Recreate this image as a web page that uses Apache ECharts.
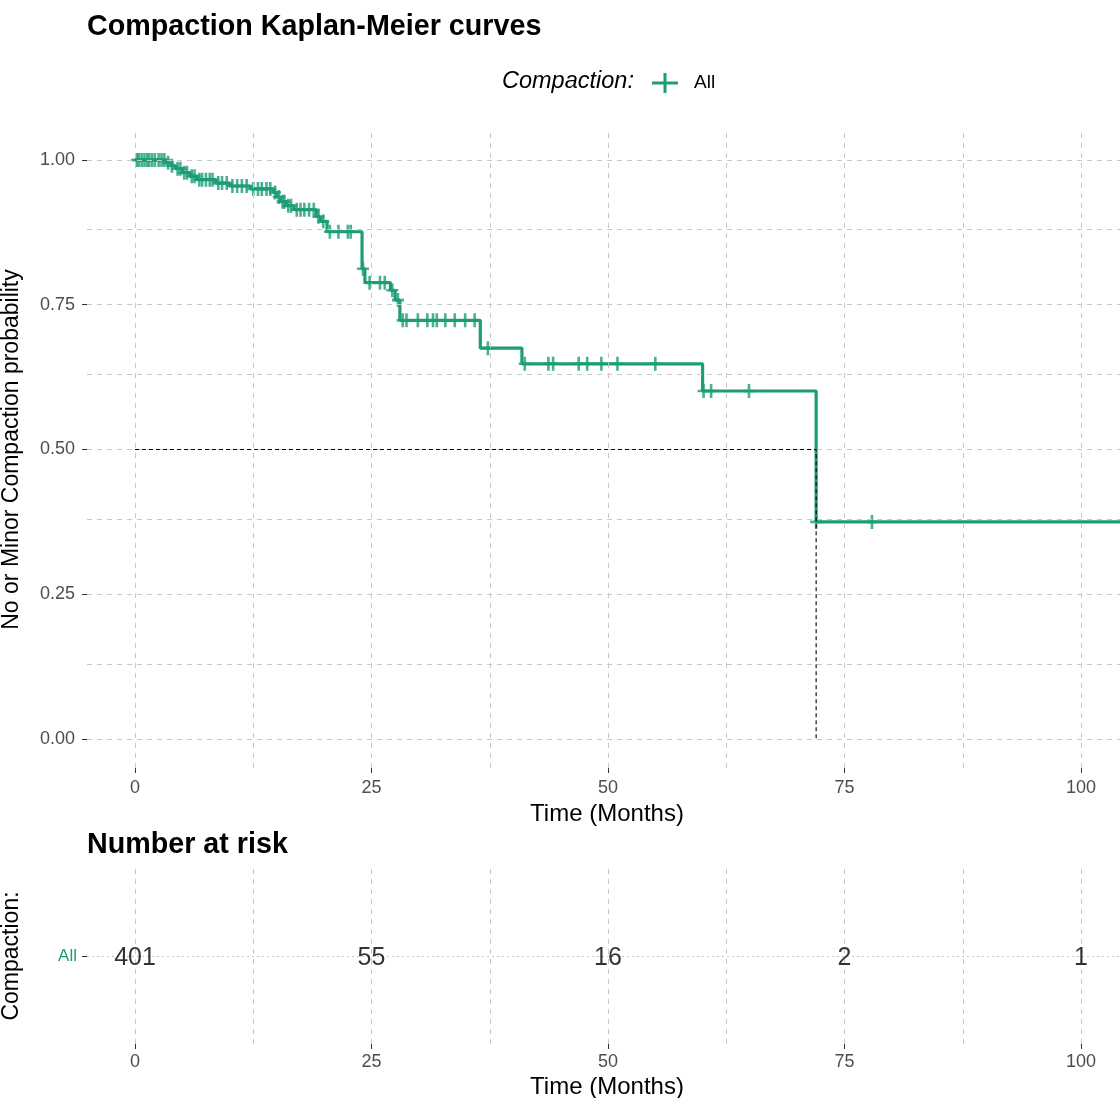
<!DOCTYPE html>
<html><head><meta charset="utf-8">
<script src="https://cdn.jsdelivr.net/npm/echarts@6/dist/echarts.min.js"></script>
<style>html,body{margin:0;padding:0;background:#fff;overflow:hidden}#c{width:1120px;height:1098px}</style>
</head><body><div id="c"></div>
<script>
// ---- data ----
const stepTimes = [0,3.3,3.8,4.3,5.0,5.8,6.5,8.5,10.0,12.2,14.6,15.0,15.4,16.0,16.8,19.2,19.6,20.3,24.0,24.3,27.0,27.5,28.0,36.5,40.9,60.0,72.0,110];
const stepSurv  = [1,0.995,0.990,0.985,0.978,0.972,0.966,0.960,0.955,0.950,0.944,0.936,0.928,0.921,0.914,0.902,0.894,0.876,0.812,0.788,0.775,0.758,0.723,0.675,0.648,0.601,0.375,0.375];
const censorTimes = [0.2,0.4,0.7,1.0,1.3,1.5,1.8,2.1,2.5,2.8,3.1,3.5,3.9,4.5,4.8,5.2,5.5,6.0,6.3,6.8,7.1,7.5,7.9,8.2,8.8,9.2,9.7,10.3,10.8,11.3,11.8,12.5,13.0,13.4,13.9,14.3,14.8,15.2,15.6,15.8,16.2,16.5,17.1,17.5,17.9,18.4,18.9,19.4,19.9,20.6,21.5,22.5,22.8,24.1,24.8,25.9,26.4,27.2,27.8,28.3,28.7,29.9,30.9,31.5,31.9,32.8,33.8,34.9,35.9,37.3,41.2,43.7,44.2,46.9,47.8,49.3,51.0,55.0,60.1,60.9,64.9,72.0,77.9];
const medianTime = 72.0;
const medianSurv = 0.5;
const xMajor = [0,25,50,75,100];
const xMinor = [12.5,37.5,62.5,87.5];
const yMajor = [0,0.25,0.5,0.75,1];
const yMinor = [0.125,0.375,0.625,0.875];
const riskTimes = [0,25,50,75,100];
const riskCounts = [401,55,16,2,1];
const groupName = 'All';

// ---- helpers ----
function survAt(t){ let s=stepSurv[0]; for(let i=0;i<stepTimes.length;i++){ if(stepTimes[i]<=t) s=stepSurv[i]; } return s; }
const FONT = "'Liberation Sans', Arial, sans-serif";
const GREEN = '#1B9E77';
const GRID = '#C8C8C8';
const X_MIN = -5.074, X_MAX = 104.86;
const plus = 'path://M-1.3,-7H1.3V7H-1.3Z M-6,-1.3H6V1.3H-6Z';
const legendPlus = 'path://M0,8.5H26V11.5H0Z M11.5,0H14.5V20H11.5Z';

const gridLineStyle = {color: GRID, type: [5,5], width: 1};
function vLines(arr){ return arr.map(v=>({xAxis:v})); }
function hLines(arr){ return arr.map(v=>({yAxis:v})); }

const chart = echarts.init(document.getElementById('c'), null, {renderer:'canvas'});
const option = {
  animation:false,
  textStyle:{fontFamily:FONT},
  title:[
    {text:'Compaction Kaplan-Meier curves', left:87, top:13, padding:0,
     textStyle:{fontFamily:FONT, fontSize:28.7, fontWeight:'bold', color:'#000'}},
    {text:'Number at risk', left:87, top:831, padding:0,
     textStyle:{fontFamily:FONT, fontSize:28.7, fontWeight:'bold', color:'#000'}}
  ],
  graphic:[
    {type:'text', left:502, top:70, style:{text:'Compaction:', fontFamily:FONT, fontSize:23.5, fontStyle:'italic', fill:'#000'}}
  ],
  legend:{
    left:652, top:73, padding:0, itemWidth:26, itemHeight:20,
    data:[{name:groupName, icon:legendPlus}],
    textStyle:{fontFamily:FONT, fontSize:19, color:'#000', padding:[0,0,0,11]}
  },
  grid:[
    {left:87, top:131, width:1040, height:637, outerBoundsMode:'none', containLabel:false},
    {left:87, top:868, width:1040, height:176, outerBoundsMode:'none', containLabel:false}
  ],
  xAxis:[
    {type:'value', gridIndex:0, min:X_MIN, max:X_MAX,
     axisLine:{show:false, onZero:false}, splitLine:{show:false},
     axisTick:{show:true, length:5, lineStyle:{color:'#333'}, customValues:xMajor},
     axisLabel:{show:true, customValues:xMajor, margin:11, fontFamily:FONT, fontSize:18, color:'#4D4D4D'},
     name:'Time (Months)', nameLocation:'middle', nameGap:33,
     nameTextStyle:{fontFamily:FONT, fontSize:24, color:'#000'}},
    {type:'value', gridIndex:1, min:X_MIN, max:X_MAX,
     axisLine:{show:false, onZero:false}, splitLine:{show:false},
     axisTick:{show:true, length:5, lineStyle:{color:'#333'}, customValues:riskTimes},
     axisLabel:{show:true, customValues:riskTimes, margin:9, fontFamily:FONT, fontSize:18, color:'#4D4D4D'},
     name:'Time (Months)', nameLocation:'middle', nameGap:31,
     nameTextStyle:{fontFamily:FONT, fontSize:24, color:'#000'}}
  ],
  yAxis:[
    {type:'value', gridIndex:0, min:-0.05, max:1.05,
     axisLine:{show:false, onZero:false}, splitLine:{show:false},
     axisTick:{show:true, length:5, lineStyle:{color:'#333'}, customValues:yMajor},
     axisLabel:{show:true, customValues:yMajor, margin:12, fontFamily:FONT, fontSize:18, color:'#4D4D4D',
       formatter:v=>v.toFixed(2)},
     name:'No or Minor Compaction probability', nameLocation:'middle', nameGap:64, nameRotate:90,
     nameTextStyle:{fontFamily:FONT, fontSize:23, color:'#000'}},
    {type:'value', gridIndex:1, min:0, max:2,
     axisLine:{show:false, onZero:false}, splitLine:{show:false},
     axisTick:{show:true, length:5, lineStyle:{color:'#333'}, customValues:[1]},
     axisLabel:{show:true, customValues:[1], margin:10, fontFamily:FONT, fontSize:17, color:GREEN,
       formatter:()=>groupName},
     name:'Compaction:', nameLocation:'middle', nameGap:64, nameRotate:90,
     nameTextStyle:{fontFamily:FONT, fontSize:23, color:'#000'}}
  ],
  series:[
    {type:'line', xAxisIndex:0, yAxisIndex:0, data:[], silent:true, z:1,
     markLine:{silent:true, symbol:['none','none'], label:{show:false}, lineStyle:gridLineStyle, animation:false,
       data:[...vLines(xMajor), ...vLines(xMinor), ...hLines(yMajor), ...hLines(yMinor)]}},
    {type:'line', xAxisIndex:1, yAxisIndex:1, data:[], silent:true, z:1,
     markLine:{silent:true, symbol:['none','none'], label:{show:false}, lineStyle:gridLineStyle, animation:false,
       data:[...vLines(xMajor), ...vLines(xMinor)]}},
    {type:'line', xAxisIndex:1, yAxisIndex:1, data:[], silent:true, z:1,
     markLine:{silent:true, symbol:['none','none'], label:{show:false},
       lineStyle:{color:GRID, type:[2,3], width:1.2}, animation:false,
       data:[{yAxis:1}]}},
    {name:groupName, type:'line', xAxisIndex:0, yAxisIndex:0, step:'end', showSymbol:false, symbol:'none',
     data:stepTimes.map((t,i)=>[t,stepSurv[i]]), lineStyle:{color:GREEN, width:3.2}, itemStyle:{color:GREEN}, z:3},
    {name:groupName, type:'scatter', xAxisIndex:0, yAxisIndex:0, symbol:plus, symbolSize:[12,14],
     data:censorTimes.map(t=>[t,survAt(t)]), itemStyle:{color:GREEN}, z:4},
    {type:'line', xAxisIndex:0, yAxisIndex:0, symbol:'none', showSymbol:false,
     data:[[0,medianSurv],[medianTime,medianSurv],[medianTime,0]],
     lineStyle:{color:'#000', type:[4,3], width:1.1}, z:5},
    {type:'scatter', xAxisIndex:1, yAxisIndex:1, symbolSize:0,
     data:riskTimes.map(t=>[t,1]),
     label:{show:true, position:'inside', fontFamily:FONT, fontSize:25, color:'#000', offset:[0,2],
       formatter:p=>String(riskCounts[p.dataIndex])}, z:6}
  ]
};
chart.setOption(option);
</script></body></html>
